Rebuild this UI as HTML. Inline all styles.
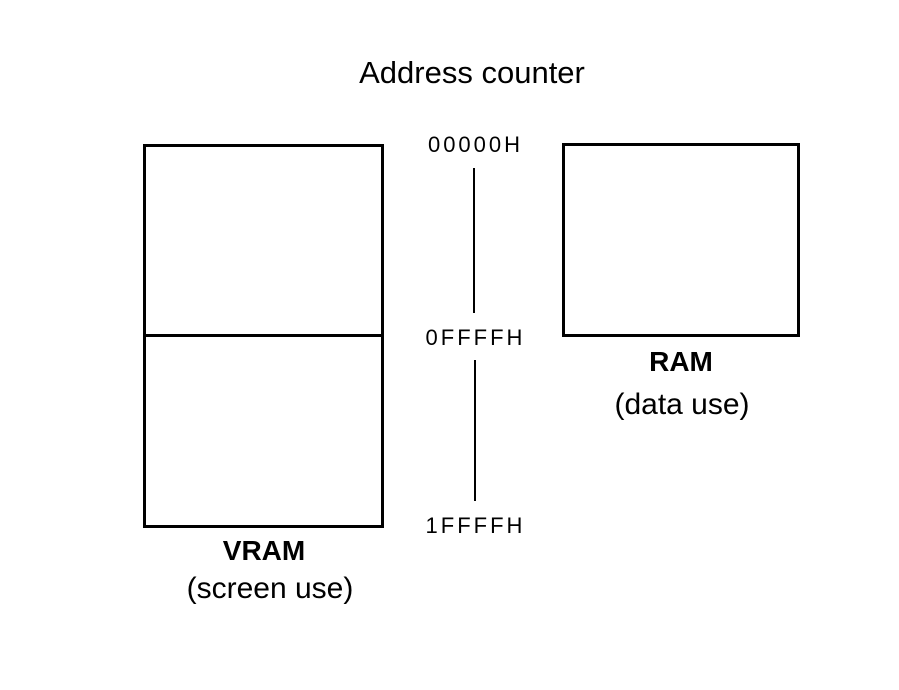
<!DOCTYPE html>
<html><head><style>
body{margin:0;width:899px;height:690px;background:#fff;position:relative;overflow:hidden;font-family:"Liberation Sans",sans-serif;color:#000}
.t{position:absolute;white-space:nowrap;transform:translate(-50%,-50%)}
.b{position:absolute;border:3px solid #000;box-sizing:border-box}
.v{position:absolute;width:1.5px;background:#000}
.a{font-size:22px;letter-spacing:3px;padding-left:3px}
</style></head><body>
<div class="t" style="left:472px;top:73px;font-size:31px">Address counter</div>
<div class="b" style="left:143px;top:144px;width:241px;height:384px"></div>
<div style="position:absolute;left:143px;top:334px;width:241px;height:3px;background:#000"></div>
<div class="b" style="left:562px;top:143px;width:238px;height:194px"></div>
<div class="v" style="left:473px;top:168px;height:145px"></div>
<div class="v" style="left:474px;top:360px;height:141px"></div>
<div class="t a" style="left:474px;top:145px">00000H</div>
<div class="t a" style="left:474px;top:338px">0FFFFH</div>
<div class="t a" style="left:474px;top:526px">1FFFFH</div>
<div class="t" style="left:264px;top:551px;font-size:28px;font-weight:bold">VRAM</div>
<div class="t" style="left:270px;top:589px;font-size:30px">(screen use)</div>
<div class="t" style="left:681px;top:362px;font-size:28px;font-weight:bold">RAM</div>
<div class="t" style="left:682px;top:405px;font-size:30px">(data use)</div>
</body></html>
